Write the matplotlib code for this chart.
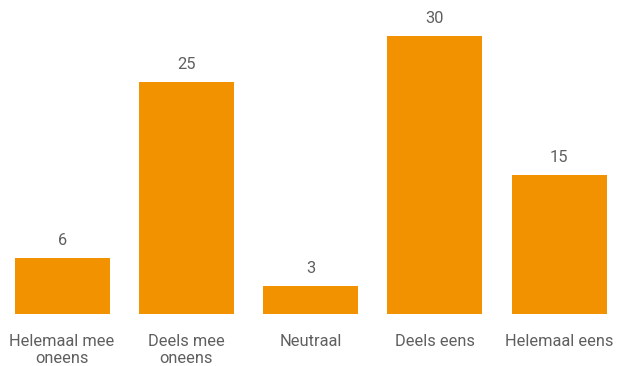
import matplotlib
matplotlib.use("Agg")
import matplotlib.pyplot as plt

categories = ["Helemaal mee\noneens", "Deels mee\noneens", "Neutraal", "Deels eens", "Helemaal eens"]
values = [6, 25, 3, 30, 15]

bar_color = "#F39200"
text_color = "#5f5f5f"

plt.rcParams["font.family"] = ["Roboto", "DejaVu Sans"]

fig = plt.figure(figsize=(6.18, 3.66), dpi=100)
ax = fig.add_axes([0, 52 / 366, 1, 1 - 52 / 366])

x = range(len(categories))
bars = ax.bar(x, values, width=0.765, color=bar_color)

ax.set_xlim(-0.5, 4.474)
ax.set_ylim(0, 33.9)

for rect, v in zip(bars, values):
    ax.annotate(str(v), (rect.get_x() + rect.get_width() / 2, v),
                xytext=(0, 7.5), textcoords="offset points",
                ha="center", va="bottom", fontsize=11.8, color=text_color)

ax.set_xticks(list(x))
ax.set_xticklabels(categories, fontsize=11.8, color=text_color, linespacing=1.15)
ax.tick_params(axis="x", length=0, pad=14.5)
ax.set_yticks([])
for s in ax.spines.values():
    s.set_visible(False)

fig.savefig("out.png", dpi=100)
